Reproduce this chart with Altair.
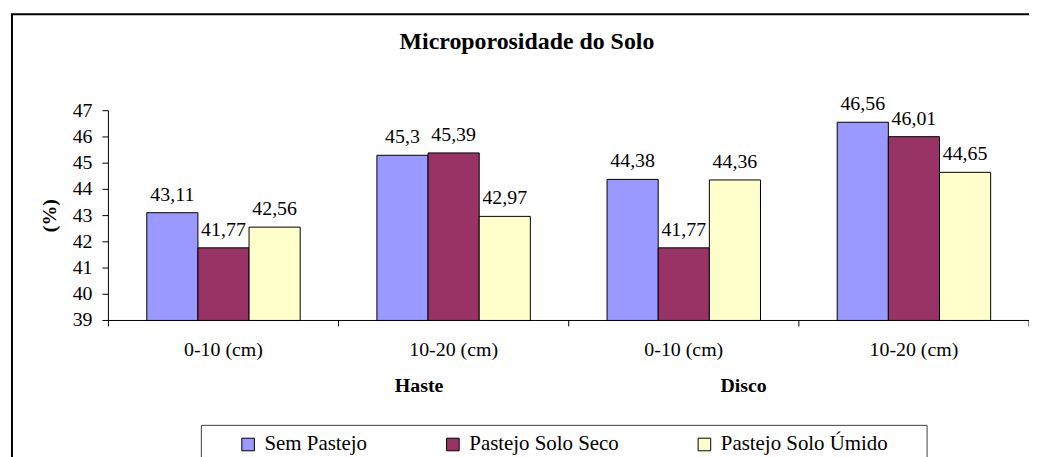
import altair as alt
import pandas as pd

categories = ["Haste|0-10 (cm)", "Haste|10-20 (cm)", "Disco|0-10 (cm)", "Disco|10-20 (cm)"]
series = ["Sem Pastejo", "Pastejo Solo Seco", "Pastejo Solo Úmido"]
sem_pastejo = [43.11, 45.30, 44.38, 46.56]
pastejo_seco = [41.77, 45.39, 41.77, 46.01]
pastejo_umido = [42.56, 42.97, 44.36, 44.65]
colors = ["#9999FF", "#993366", "#FFFFCC"]
y_ticks = [39, 40, 41, 42, 43, 44, 45, 46, 47]
groups = ["Haste", "Disco"]
chart_title = "Microporosidade do Solo"
y_title = "(%)"

rows = []
for s, vals in zip(series, [sem_pastejo, pastejo_seco, pastejo_umido]):
    for c, v in zip(categories, vals):
        rows.append({"cat": c, "serie": s, "valor": v})
df = pd.DataFrame(rows)
cat_df = pd.DataFrame({"cat": categories})
tick_df = pd.DataFrame({"v": y_ticks})
title_df = pd.DataFrame({"t": [chart_title]})

FONT = "Liberation Serif"
W, H = 926, 211

x_scale = alt.Scale(domain=categories, paddingInner=0, paddingOuter=0)
xoff = alt.XOffset("serie:N", sort=series, scale=alt.Scale(domain=series, paddingOuter=0.75, paddingInner=0))
y_scale = alt.Scale(domain=[39, 47], zero=False, nice=False)

bars = alt.Chart(df).mark_bar(stroke="black", strokeWidth=1).encode(
    x=alt.X("cat:N", sort=categories, scale=x_scale, axis=None),
    xOffset=xoff,
    y=alt.Y("valor:Q", scale=y_scale, axis=None),
    y2=alt.datum(39),
    color=alt.Color("serie:N", sort=series, scale=alt.Scale(domain=series, range=colors),
                    legend=alt.Legend(orient="none", legendX=130, legendY=325,
                                      direction="horizontal", title=None,
                                      symbolType="square", symbolSize=160,
                                      symbolStrokeColor="black", symbolStrokeWidth=1,
                                      labelFont=FONT, labelFontSize=21, labelColor="black",
                                      labelLimit=500,
                                      columnPadding=75, labelOffset=6, padding=0)),
)

labels = alt.Chart(df).transform_calculate(
    txt="replace(toString(datum.valor), '.', ',')"
).mark_text(dy=-12, baseline="alphabetic", font=FONT, fontSize=20, color="black").encode(
    x=alt.X("cat:N", sort=categories, scale=x_scale, axis=None),
    xOffset=xoff,
    y=alt.Y("valor:Q", scale=y_scale, axis=None),
    text="txt:N",
)

# y axis built from the y scale
y_domain = alt.Chart(title_df).mark_rule(color="black", strokeWidth=1).encode(
    x=alt.value(0), y=alt.value(0), y2=alt.value(H)
)
y_tick_marks = alt.Chart(tick_df).mark_rule(color="black", strokeWidth=1).encode(
    y=alt.Y("v:Q", scale=y_scale, axis=None), x=alt.value(-6), x2=alt.value(0)
)
y_tick_labels = alt.Chart(tick_df).mark_text(
    font=FONT, fontSize=20, color="black", align="right", baseline="middle", dx=-16
).encode(y=alt.Y("v:Q", scale=y_scale, axis=None), x=alt.value(0), text="v:Q")
y_title_mark = alt.Chart(pd.DataFrame({"t": [y_title]})).mark_text(
    font=FONT, fontSize=20, fontWeight="bold", color="black", angle=270,
    align="center", baseline="middle"
).encode(x=alt.value(-59), y=alt.value(H / 2), text="t:N")

# x axis built from the x scale
x_domain = alt.Chart(title_df).mark_rule(color="black", strokeWidth=1).encode(
    x=alt.value(0), x2=alt.value(W), y=alt.value(H)
)
sep_ticks = alt.Chart(cat_df).mark_rule(color="black", strokeWidth=1).encode(
    x=alt.X("cat:N", sort=categories, scale=x_scale, bandPosition=0, axis=None),
    y=alt.value(H), y2=alt.value(H + 6),
)
end_tick = alt.Chart(cat_df).transform_filter(
    alt.datum.cat == categories[-1]
).mark_rule(color="black", strokeWidth=1).encode(
    x=alt.X("cat:N", sort=categories, scale=x_scale, bandPosition=1, axis=None),
    y=alt.value(H), y2=alt.value(H + 6),
)
x_labels = alt.Chart(cat_df).transform_calculate(
    lab="split(datum.cat, '|')[1]"
).mark_text(font=FONT, fontSize=20, color="black", baseline="alphabetic", align="center").encode(
    x=alt.X("cat:N", sort=categories, scale=x_scale, axis=None),
    y=alt.value(247), text="lab:N",
)

grp_df = pd.DataFrame({"grupo": groups, "cat": [categories[1], categories[2]]})
haste = alt.Chart(grp_df).transform_filter(alt.datum.grupo == groups[0]).mark_text(
    font=FONT, fontSize=20, fontWeight="bold", color="black", baseline="alphabetic"
).encode(
    x=alt.X("cat:N", sort=categories, scale=x_scale, bandPosition=0.35, axis=None),
    y=alt.value(283), text="grupo:N",
)
disco = alt.Chart(grp_df).transform_filter(alt.datum.grupo == groups[1]).mark_text(
    font=FONT, fontSize=20, fontWeight="bold", color="black", baseline="alphabetic"
).encode(
    x=alt.X("cat:N", sort=categories, scale=x_scale, bandPosition=0.76, axis=None),
    y=alt.value(283), text="grupo:N",
)

title = alt.Chart(title_df).mark_text(
    font=FONT, fontSize=24, fontWeight="bold", color="black", baseline="alphabetic", align="center"
).encode(x=alt.value(421), y=alt.value(-62), text="t:N")

frame = alt.Chart(title_df).mark_rect(filled=False, stroke="black", strokeWidth=2).encode(
    x=alt.value(-97), x2=alt.value(1100), y=alt.value(-97), y2=alt.value(500)
)
legend_box = alt.Chart(title_df).mark_rect(filled=False, stroke="#404040", strokeWidth=1).encode(
    x=alt.value(93.5), x2=alt.value(823.5), y=alt.value(316.5), y2=alt.value(500)
)

chart = alt.layer(
    bars, labels, y_domain, y_tick_marks, y_tick_labels, y_title_mark,
    x_domain, sep_ticks, end_tick, x_labels, haste, disco, title, frame, legend_box
).properties(
    width=W, height=H,
    autosize=alt.AutoSizeParams(type="none"),
    padding={"left": 101, "top": 102, "right": 0, "bottom": 136},
    background="white",
).configure_view(strokeWidth=0)

chart.save("out.html", embed_options={"renderer": "svg", "actions": False})
